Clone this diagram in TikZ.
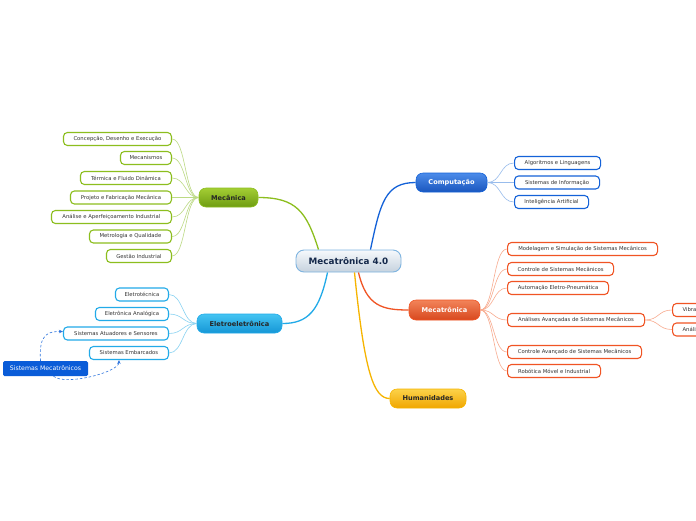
\documentclass[tikz,border=0pt]{standalone}
\usepackage{fontspec}
\setmainfont{DejaVu Sans}
\usetikzlibrary{calc,arrows.meta}
\definecolor{gA}{HTML}{A4CE34}\definecolor{gB}{HTML}{6E9C12}\definecolor{gL}{HTML}{8CBE1E}\definecolor{gS}{HTML}{BCDA84}
\definecolor{bA}{HTML}{4C8CEA}\definecolor{bB}{HTML}{1A56BE}\definecolor{bL}{HTML}{1462D8}\definecolor{bS}{HTML}{98BCEC}
\definecolor{cA}{HTML}{44C4F2}\definecolor{cB}{HTML}{1596D6}\definecolor{cL}{HTML}{22AAE8}\definecolor{cS}{HTML}{88D2F2}
\definecolor{oA}{HTML}{F2845A}\definecolor{oB}{HTML}{D8481E}\definecolor{oL}{HTML}{F05424}\definecolor{oS}{HTML}{F8AC90}
\definecolor{yA}{HTML}{FCD24A}\definecolor{yB}{HTML}{F0A600}\definecolor{yL}{HTML}{F6B400}
\definecolor{ctA}{HTML}{F6F9FC}\definecolor{ctB}{HTML}{C6D2DE}\definecolor{ctL}{HTML}{7EB4E0}
\definecolor{txt}{HTML}{333333}\definecolor{navy}{HTML}{14284A}\definecolor{smblue}{HTML}{0A5CD8}
\tikzset{
  leaf/.style={draw=#1, line width=1.1pt, fill=white, rounded corners=4pt, minimum height=13pt,
    inner sep=0pt, text=txt, font=\fontsize{5.3}{6}\selectfont},
  branch/.style={rounded corners=7pt, minimum height=19pt, inner sep=0pt, font=\fontsize{6.6}{8}\selectfont\bfseries},
  mainlink/.style={draw=#1, line width=1.3pt},
  sublink/.style={draw=#1, line width=0.6pt},
}
\begin{document}
\begin{tikzpicture}[x=1pt,y=-1pt]
\useasboundingbox (0,0) rectangle (696,520);
\clip (0,0) rectangle (696,520);
\fill[white] (0,0) rectangle (696,520);
% center
\node[draw=ctL, line width=0.9pt, top color=ctA, bottom color=ctB, rounded corners=8pt,
  minimum width=105pt, minimum height=22pt, inner sep=0pt, text=navy,
  font=\fontsize{8.8}{10}\selectfont\bfseries] (c) at (348.5,261) {Mecatrônica 4.0};
% branches
\node[branch, draw=gL, line width=0.6pt, top color=gA, bottom color=gB, minimum width=59pt, text=black!85] (mec) at (228.5,197.5) {Mecânica};
\node[branch, draw=bL, line width=0.6pt, top color=bA, bottom color=bB, minimum width=71pt, text=white] (comp) at (451.5,182.5) {Computação};
\node[branch, draw=cL, line width=0.6pt, top color=cA, bottom color=cB, minimum width=85pt, text=black!85] (ele) at (239.5,323.5) {Eletroeletrônica};
\node[branch, draw=oL, line width=0.6pt, top color=oA, bottom color=oB, minimum width=71pt, minimum height=20pt, text=white] (mtr) at (444.5,310) {Mecatrônica};
\node[branch, draw=yL, line width=0.6pt, top color=yA, bottom color=yB, minimum width=76pt, text=black!85] (hum) at (428,398.5) {Humanidades};
% main links
\draw[mainlink=gL] ($(c.north)+(-30,0)$) .. controls +(-12,-38) and +(38,0) .. (mec.east);
\draw[mainlink=bL] ($(c.north)+(22,0)$) .. controls +(10,-48) and +(-30,0) .. (comp.west);
\draw[mainlink=cL] ($(c.south)+(-21,0)$) .. controls +(-8,38) and +(26,0) .. (ele.east);
\draw[mainlink=oL] ($(c.south)+(10,0)$) .. controls +(8,34) and +(-26,0) .. (mtr.west);
\draw[mainlink=yL] ($(c.south)+(6,0)$) .. controls +(10,100) and +(-16,0) .. (hum.west);
% Mecânica leaves
\node[leaf=gL, minimum width=108pt, anchor=east] (m1) at (172,139) {Concepção, Desenho e Execução};
\node[leaf=gL, minimum width=51pt, anchor=east] (m2) at (172,158) {Mecanismos};
\node[leaf=gL, minimum width=91pt, anchor=east] (m3) at (172,178) {Térmica e Fluido Dinâmica};
\node[leaf=gL, minimum width=101pt, anchor=east] (m4) at (172,197.5) {Projeto e Fabricação Mecânica};
\node[leaf=gL, minimum width=120pt, anchor=east] (m5) at (172,217) {Análise e Aperfeiçoamento Industrial};
\node[leaf=gL, minimum width=82pt, anchor=east] (m6) at (172,236.5) {Metrologia e Qualidade};
\node[leaf=gL, minimum width=65pt, anchor=east] (m7) at (172,256) {Gestão Industrial};
\foreach \n in {m1,m2,m3,m4,m5,m6,m7}
  \draw[sublink=gS] (mec.west) .. controls +(-14,0) and +(14,0) .. (\n.east);
% Computação leaves
\node[leaf=bL, minimum width=86pt, anchor=west] (c1) at (514,163) {Algoritmos e Linguagens};
\node[leaf=bL, minimum width=85pt, anchor=west] (c2) at (514,182.5) {Sistemas de Informação};
\node[leaf=bL, minimum width=74pt, anchor=west] (c3) at (514,202) {Inteligência Artificial};
\foreach \n in {c1,c2,c3}
  \draw[sublink=bS] (comp.east) .. controls +(14,0) and +(-14,0) .. (\n.west);
% Eletroeletrônica leaves
\node[leaf=cL, minimum width=53pt, anchor=east] (e1) at (169,294.5) {Eletrotécnica};
\node[leaf=cL, minimum width=73pt, anchor=east] (e2) at (169,314) {Eletrônica Analógica};
\node[leaf=cL, minimum width=105pt, anchor=east] (e3) at (169,333.5) {Sistemas Atuadores e Sensores};
\node[leaf=cL, minimum width=79pt, anchor=east] (e4) at (169,353) {Sistemas Embarcados};
\foreach \n in {e1,e2,e3,e4}
  \draw[sublink=cS] (ele.west) .. controls +(-14,0) and +(14,0) .. (\n.east);
% Sistemas Mecatrônicos
\node[fill=smblue, rounded corners=1.5pt, minimum width=85pt, minimum height=15pt, inner sep=0pt,
  text=white, font=\fontsize{6.2}{7}\selectfont] (sm) at (45.5,368.5) {Sistemas Mecatrônicos};
\draw[smblue!85, line width=0.6pt, dashed, dash pattern=on 2.5pt off 2pt, -{Stealth[length=4pt,width=3.5pt]}]
  ($(sm.north)+(-5,0)$) .. controls +(-2,-28) and +(-14,0) .. ($(e3.west)+(0,-2)$);
\draw[smblue!85, line width=0.6pt, dashed, dash pattern=on 2.5pt off 2pt, -{Stealth[length=4pt,width=3.5pt]}]
  ($(sm.south)+(8,0)$) .. controls +(12,10) and +(0,12) .. ($(e4.south)+(-10,0)$);
% Mecatrônica leaves
\node[leaf=oL, minimum width=150pt, anchor=west] (t1) at (507,249) {Modelagem e Simulação de Sistemas Mecânicos};
\node[leaf=oL, minimum width=106pt, anchor=west] (t2) at (507,269) {Controle de Sistemas Mecânicos};
\node[leaf=oL, minimum width=101pt, anchor=west] (t3) at (507,288) {Automação Eletro-Pneumática};
\node[leaf=oL, minimum width=137pt, anchor=west] (t4) at (507,320) {Análises Avançadas de Sistemas Mecânicos};
\node[leaf=oL, minimum width=134pt, anchor=west] (t5) at (507,352) {Controle Avançado de Sistemas Mecânicos};
\node[leaf=oL, minimum width=93pt, anchor=west] (t6) at (507,371) {Robótica Móvel e Industrial};
\foreach \n in {t1,t2,t3,t4,t5,t6}
  \draw[sublink=oS] (mtr.east) .. controls +(14,0) and +(-14,0) .. (\n.west);
\node[leaf=oL, minimum width=80pt, anchor=west, text width=72pt, align=left] (a1) at (672,310) {\hspace*{6pt}Vibrações Mecânicas};
\node[leaf=oL, minimum width=80pt, anchor=west, text width=72pt, align=left] (a2) at (672,329.5) {\hspace*{6pt}Análise Modal};
\foreach \n in {a1,a2}
  \draw[sublink=oS] (t4.east) .. controls +(14,0) and +(-14,0) .. (\n.west);
\end{tikzpicture}
\end{document}
